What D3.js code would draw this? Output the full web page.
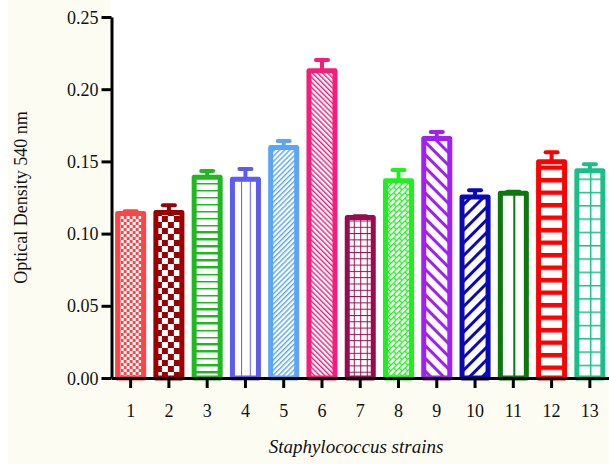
<!DOCTYPE html>
<html>
<head>
<meta charset="utf-8">
<script src="https://cdn.jsdelivr.net/npm/d3@7"></script>
<style>
  html, body { margin: 0; padding: 0; background: #ffffff; }
  svg { display: block; }
</style>
</head>
<body>
<svg id="chart" width="609" height="464"></svg>
<script>
// ---- data ----
const categories = ["1","2","3","4","5","6","7","8","9","10","11","12","13"];
const means  = [0.114, 0.1146, 0.139, 0.1377, 0.1596, 0.2127, 0.1111, 0.1366, 0.1659, 0.1253, 0.128, 0.1497, 0.1435];
const sds    = [0.0015, 0.005, 0.0044, 0.007, 0.0045, 0.0075, 0.001, 0.0075, 0.0045, 0.0047, 0.001, 0.0066, 0.0045];
const colors = ["#fa4646","#9b0000","#20b820","#5c5cf0","#5aa5f5","#f71b7a","#9b0a50","#1ef01e","#a020f0","#0a0ab4","#0a780a","#ff0000","#19bf85"];
const patterns = ["checkFine","checkLarge","hstripe","vlines3","diagFineR","diagFineL","gridFine","brick","diagWideL","diagWideR","vline2","hstripeThick","gridLarge"];
const yTicks = [0, 0.05, 0.10, 0.15, 0.20, 0.25];
const yTitle = "Optical Density 540 nm";
const xTitle = "Staphylococcus strains";

// ---- layout ----
const W = 609, H = 464;
const m = { left: 111.5, right: 0, top: 17, bottom: 86 };
const svg = d3.select("#chart");
const defs = svg.append("defs");

// backgrounds
svg.append("rect").attr("x", 8).attr("y", 0).attr("width", W - 8).attr("height", H).attr("fill", "#fcfcf3");
svg.append("rect").attr("x", m.left).attr("y", 0).attr("width", W - m.left).attr("height", H - m.bottom).attr("fill", "#ffffff");

const x = d3.scaleBand().domain(categories).range([m.left, W - m.right]).paddingInner(0.32).paddingOuter(0.16);
const y = d3.scaleLinear().domain([0, 0.25]).range([H - m.bottom, m.top]);
const bw = x.bandwidth();

// ---- patterns ----
function makePattern(i) {
  const c = colors[i], type = patterns[i];
  const id = "pat" + i;
  const p = defs.append("pattern").attr("id", id).attr("patternUnits", "userSpaceOnUse")
    .attr("x", x(categories[i])).attr("y", y(0));
  const bg = (w, h) => p.append("rect").attr("width", w).attr("height", h).attr("fill", "#fff");
  const r = (ax, ay, w, h) => p.append("rect").attr("x", ax).attr("y", ay).attr("width", w).attr("height", h).attr("fill", c);
  const ln = (x1, y1, x2, y2, sw) => p.append("line").attr("x1", x1).attr("y1", y1).attr("x2", x2).attr("y2", y2).attr("stroke", c).attr("stroke-width", sw);
  switch (type) {
    case "checkFine": p.attr("width", 6).attr("height", 6); bg(6,6); r(0,0,3,3); r(3,3,3,3); break;
    case "checkLarge": p.attr("width", 12).attr("height", 12); bg(12,12); r(0,0,6,6); r(6,6,6,6); break;
    case "hstripe": p.attr("width", 6).attr("height", 7); bg(6,7); r(0,0,6,2.5); break;
    case "hstripeThick": p.attr("width", 6).attr("height", 12.5); bg(6,12.5); r(0,0,6,4.5); break;
    case "vlines3": p.attr("width", bw/3).attr("height", 10); bg(bw/3,10); r(-1,0,2,10); break;
    case "vline2": p.attr("width", bw/2).attr("height", 10); bg(bw/2,10); r(-2,0,4,10); break;
    case "gridFine": p.attr("width", bw/4).attr("height", 6.3); bg(bw/4,6.3); r(-1,0,2,6.3); r(0,-1,bw/4,2); break;
    case "gridLarge": p.attr("width", bw/2).attr("height", 13.3); bg(bw/2,13.3); r(-1.5,0,3,13.3); r(0,-1.5,bw/2,3); break;
    case "diagFineR": p.attr("width", 3.6).attr("height", 3.6).attr("patternTransform", "rotate(45)"); bg(3.6,3.6); r(0,0,1.4,3.6); break;
    case "diagFineL": p.attr("width", 3.6).attr("height", 3.6).attr("patternTransform", "rotate(-45)"); bg(3.6,3.6); r(0,0,1.4,3.6); break;
    case "diagWideR": p.attr("width", 9).attr("height", 9).attr("patternTransform", "rotate(45)"); bg(9,9); r(0,0,3,9); break;
    case "diagWideL": p.attr("width", 9).attr("height", 9).attr("patternTransform", "rotate(-45)"); bg(9,9); r(0,0,3,9); break;
    case "brick": p.attr("width", 8).attr("height", 8).attr("patternTransform", "rotate(-45)"); bg(8,8);
      ln(0,0.6,8,0.6,1.3); ln(0,4.6,8,4.6,1.3); ln(0.6,0,0.6,4.6,1.3); ln(4.6,4.6,4.6,8,1.3); break;
  }
  return "url(#" + id + ")";
}

const data = categories.map((c, i) => ({ c, mean: means[i], sd: sds[i], color: colors[i], fill: makePattern(i) }));

// ---- bars ----
const g = svg.append("g");
g.selectAll("rect.bar").data(data).join("rect")
  .attr("class", "bar")
  .attr("x", d => x(d.c)).attr("width", bw)
  .attr("y", d => y(d.mean)).attr("height", d => y(0) - y(d.mean))
  .attr("fill", d => d.fill)
  .attr("stroke", d => d.color).attr("stroke-width", 5)
  .attr("stroke-linejoin", "round");

// error bars
g.selectAll("line.stem").data(data).join("line")
  .attr("x1", d => x(d.c) + bw/2).attr("x2", d => x(d.c) + bw/2)
  .attr("y1", d => y(d.mean)).attr("y2", d => y(d.mean + d.sd))
  .attr("stroke", d => d.color).attr("stroke-width", 4);
g.selectAll("line.cap").data(data).join("line")
  .attr("x1", d => x(d.c) + bw/2 - 6).attr("x2", d => x(d.c) + bw/2 + 6)
  .attr("y1", d => y(d.mean + d.sd)).attr("y2", d => y(d.mean + d.sd))
  .attr("stroke", d => d.color).attr("stroke-width", 4).attr("stroke-linecap", "round");

// ---- axes ----
const font = "'Liberation Serif', 'Times New Roman', serif";
const yAxis = svg.append("g").attr("transform", `translate(${m.left},0)`)
  .call(d3.axisLeft(y).tickValues(yTicks).tickFormat(d3.format(".2f")).tickSize(10).tickPadding(3).tickSizeOuter(0));
yAxis.select(".domain").attr("stroke", "#000").attr("stroke-width", 3);
yAxis.selectAll(".tick line").attr("stroke", "#000").attr("stroke-width", 3);
yAxis.selectAll(".tick text").attr("font-family", font).attr("font-size", 18).attr("fill", "#111").attr("dy", "0.34em");

const xAxis = svg.append("g").attr("transform", `translate(0,${y(0)})`)
  .call(d3.axisBottom(x).tickSize(10).tickPadding(16).tickSizeOuter(0));
xAxis.select(".domain").attr("stroke", "#000").attr("stroke-width", 3);
xAxis.selectAll(".tick line").attr("stroke", "#000").attr("stroke-width", 3);
xAxis.selectAll(".tick text").attr("font-family", font).attr("font-size", 18).attr("fill", "#111");

// titles
svg.append("text").attr("transform", `translate(27,${(y(0) + y(0.25)) / 2}) rotate(-90)`)
  .attr("text-anchor", "middle").attr("font-family", font).attr("font-size", 18).attr("fill", "#111").text(yTitle);
svg.append("text").attr("x", 356).attr("y", 453)
  .attr("text-anchor", "middle").attr("font-family", font).attr("font-style", "italic").attr("font-size", 19).attr("fill", "#111").text(xTitle);
</script>
</body>
</html>
